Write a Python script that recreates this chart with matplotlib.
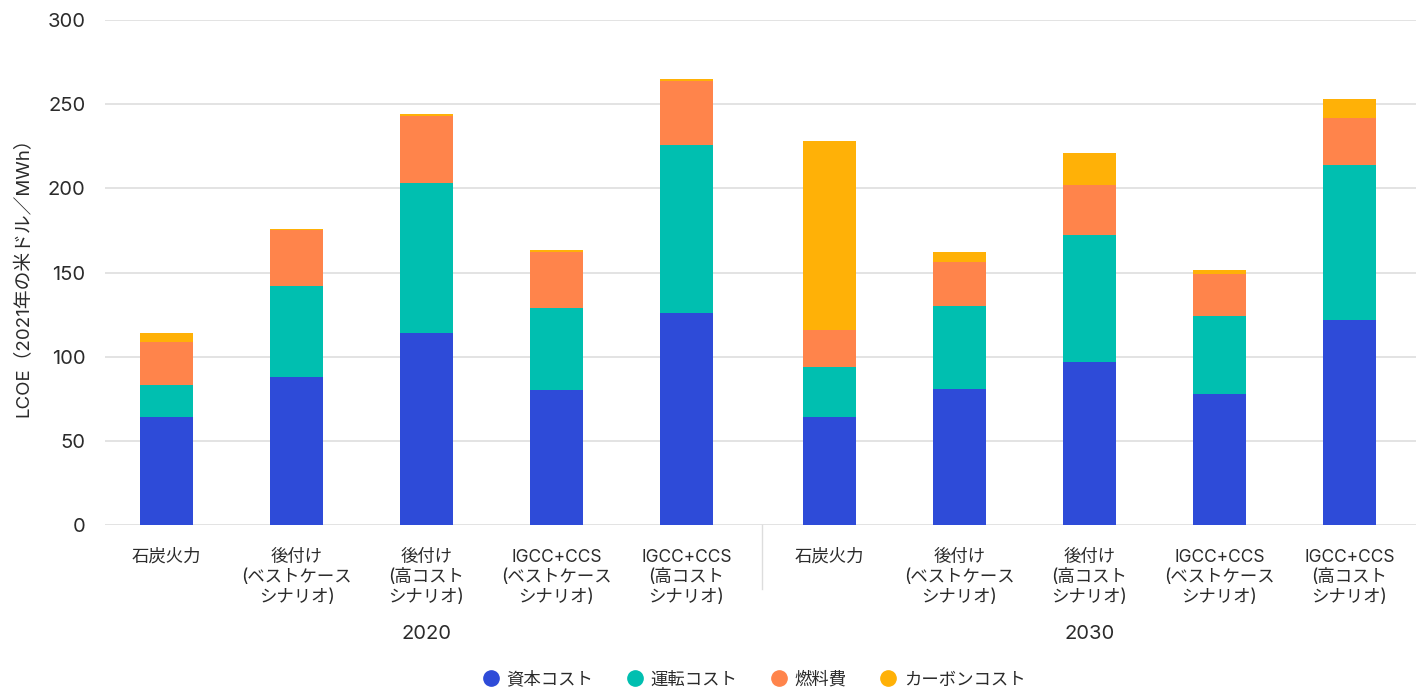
import matplotlib
matplotlib.use("Agg")
import matplotlib.pyplot as plt
import numpy as np

plt.rcParams['font.family'] = ['Inter', 'Noto Sans CJK JP', 'DejaVu Sans']

# LCOE components, US$(2021)/MWh
categories = ['石炭火力', '後付け\n(ベストケース\nシナリオ)', '後付け\n(高コスト\nシナリオ)',
              'IGCC+CCS\n(ベストケース\nシナリオ)', 'IGCC+CCS\n(高コスト\nシナリオ)'] * 2
years = ['2020', '2030']
capital = [64, 88, 114, 80, 126, 64, 81, 97, 78, 122]
operation = [19, 54, 89, 49, 100, 30, 49, 75, 46, 92]
fuel = [26, 33, 40, 33, 38, 22, 26, 30, 25, 28]
carbon = [5, 1, 1, 1.5, 1, 112, 6, 19, 2.5, 11]

series = ['資本コスト', '運転コスト', '燃料費', 'カーボンコスト']
colors = ['#2E4BD8', '#00BFB0', '#FF844B', '#FFB107']
text_color = '#2b2b2b'

# two groups of five bars, small extra gap between groups
x = np.array([0, 1, 2, 3, 4, 5.1, 6.1, 7.1, 8.1, 9.1])

fig = plt.figure(figsize=(14.16, 6.91), dpi=100)
ax = fig.add_axes([0.0742, 0.2402, 0.9258, 0.7308])

bottom = np.zeros(len(x))
for name, vals, c in zip(series, [capital, operation, fuel, carbon], colors):
    ax.bar(x, vals, width=0.41, bottom=bottom, color=c, label=name, zorder=3)
    bottom += np.array(vals)

ax.set_xlim(-0.473, 9.612)
ax.set_ylim(0, 300)
ax.set_yticks(range(0, 301, 50))
ax.grid(axis='y', color='#e0e0e0', linewidth=1.3, zorder=0)
for s in ax.spines.values():
    s.set_visible(False)
ax.tick_params(axis='both', length=0, colors=text_color)
ax.tick_params(axis='y', labelsize=14.5, pad=14)
ax.set_xticks(x)
ax.set_xticklabels(categories, fontsize=12.5, linespacing=1.25, color=text_color)
ax.tick_params(axis='x', pad=17)
ax.set_ylabel('LCOE（2021年の米ドル／MWh）', fontsize=13.5, color=text_color, labelpad=11)

# separator between year groups
ax.plot([4.58, 4.58], [0, -38], color='#dddddd', linewidth=1, clip_on=False)

# year labels under each group
for xc, yr in zip([2, 7.1], years):
    ax.text(xc, -65, yr, ha='center', va='center', fontsize=14.5, color=text_color)

handles = [plt.Line2D([], [], marker='o', linestyle='', markersize=11, color=c) for c in colors]
fig.legend(handles, series, loc='center', bbox_to_anchor=(0.533, 1 - 680 / 691), ncol=4,
           frameon=False, fontsize=12.5, handlelength=0.8, handletextpad=0.5,
           columnspacing=2.0, labelcolor=text_color)

plt.savefig('out.png', dpi=100)
plt.close()
